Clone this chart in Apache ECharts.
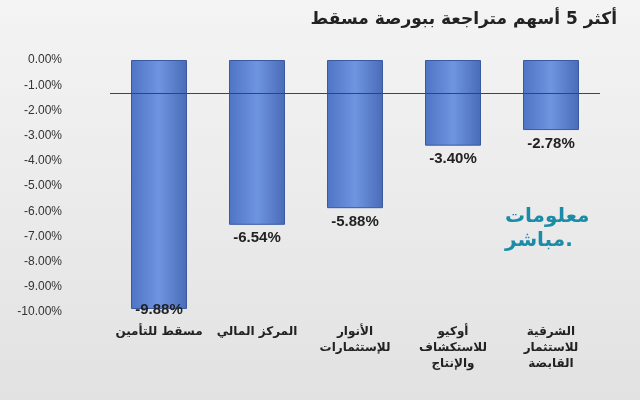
<!DOCTYPE html>
<html><head><meta charset="utf-8">
<script src="https://cdn.jsdelivr.net/npm/echarts@6/dist/echarts.min.js"></script>
<style>html,body{margin:0;padding:0}#c{width:640px;height:400px}</style>
</head><body><div id="c"></div>
<script>
const categories = ["مسقط للتأمين","المركز المالي","الأنوار\nللإستثمارات","أوكيو\nللاستكشاف\nوالإنتاج","الشرقية\nللاستثمار\nالقابضة"];
const values = [-9.88,-6.54,-5.88,-3.40,-2.78];
const chart = echarts.init(document.getElementById('c'));
chart.setOption({
  backgroundColor: new echarts.graphic.LinearGradient(0,0,0,1,[{offset:0,color:'#f4f4f4'},{offset:1,color:'#e2e2e2'}]),
  title:{text:'أكثر 5 أسهم متراجعة ببورصة مسقط',right:18,top:6,textStyle:{fontFamily:'DejaVu Sans',fontSize:17,fontWeight:'bold',color:'#222'}},
  graphic:[{type:'text',left:505,top:205,style:{text:'معلومات\nمباشر.',fill:'#1a8ca8',font:'bold 20px DejaVu Sans',lineHeight:24,align:'center'}}],
  grid:{left:110,right:40,top:60,bottom:88},
  xAxis:{type:'category',data:categories,axisLine:{show:false},axisTick:{show:false},
    axisLabel:{interval:0,fontFamily:'DejaVu Sans',fontSize:12,fontWeight:'bold',color:'#222',lineHeight:16,margin:12}},
  yAxis:{type:'value',min:-10,max:0,interval:1,
    axisLabel:{formatter:v=>v.toFixed(2)+'%',fontFamily:'Liberation Sans',fontSize:12,color:'#333',margin:48},
    splitLine:{show:false},axisLine:{show:false}},
  series:[{type:'bar',data:values,barWidth:56,
    itemStyle:{color:new echarts.graphic.LinearGradient(0,0,1,0,[{offset:0,color:'#4e74c4'},{offset:0.5,color:'#6f94e0'},{offset:1,color:'#4a6cb8'}]),borderColor:'#3a5aa0',borderWidth:1},
    markLine:{silent:true,symbol:'none',label:{show:false},lineStyle:{color:'#444',type:'solid',width:1},data:[{yAxis:-1.3}]},
    label:{show:true,position:'bottom',distance:6,formatter:p=>p.value.toFixed(2)+'%',fontFamily:'Liberation Sans',fontSize:15,fontWeight:'bold',color:'#222'}}]
});
chart.setOption({series:[{data:values.map((v,i)=>i===0?{value:v,label:{position:'insideBottom',distance:-8}}:v)}]});
</script></body></html>
